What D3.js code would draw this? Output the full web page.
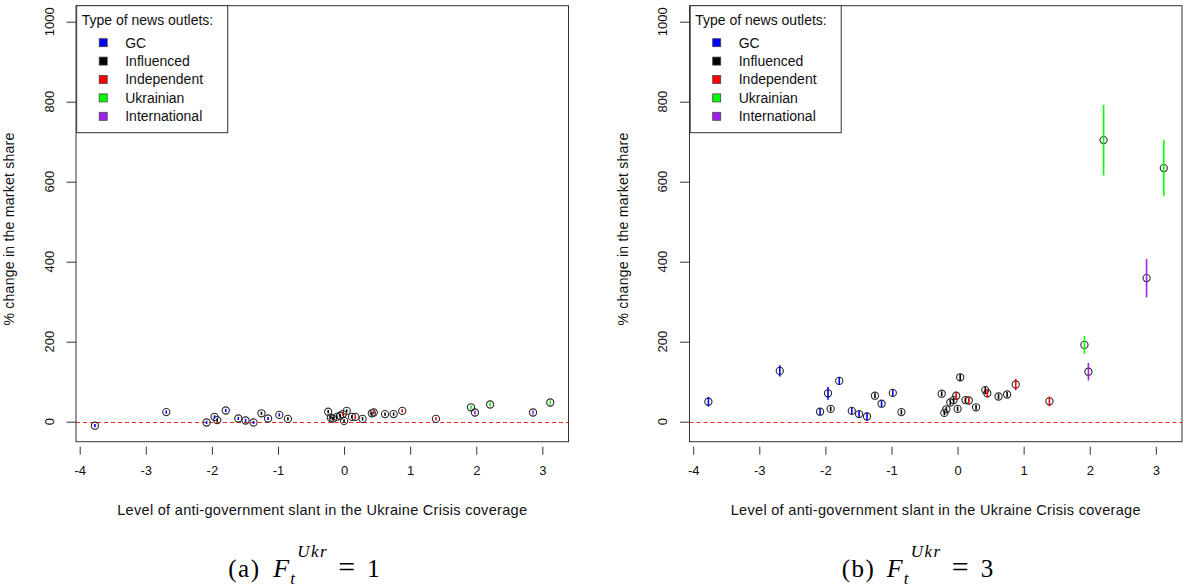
<!DOCTYPE html>
<html><head><meta charset="utf-8">
<script src="https://cdn.jsdelivr.net/npm/d3@7"></script>
<style>
body{margin:0;background:#fff;}
svg{display:block;font-family:"Liberation Sans",Arial,sans-serif;}
</style></head>
<body><svg id="c" width="1183" height="587"></svg>
<script>
// ---- data ----
const types = ["GC","Influenced","Independent","Ukrainian","International"];
const typeColors = ["#0000FF","#000000","#FF0000","#00FF00","#A020F0"];
const outletType = ["GC","GC","GC","GC","Influenced","GC","GC","GC","GC","Influenced","GC","GC","Influenced",
  "Influenced","Influenced","Influenced","Influenced","Influenced","Independent","Influenced","Influenced","Influenced",
  "Independent","Influenced","Influenced","Independent","Influenced","Influenced","Independent","Independent",
  "Ukrainian","International","Ukrainian","International","Ukrainian"];
const slant = [-3.77,-2.69,-2.08,-1.96,-1.92,-1.79,-1.60,-1.49,-1.37,-1.25,-1.15,-0.98,-0.85,
  -0.24,-0.20,-0.17,-0.11,-0.06,-0.02,0.00,0.04,0.12,0.17,0.28,0.42,0.45,0.62,0.75,0.88,1.39,
  1.92,1.98,2.21,2.86,3.12];
const shareF1 = [-10,24,-2,12,4,28,8,3,-2,21,8,17,7,25,10,8,12,15,19,2,27,12,12,7,21,23,19,19,27,7,36,23,43,23,48];
const shareF3 = [50,127,25,71,32,102,27,19,13,65,45,72,24,70,22,31,48,54,65,32,111,54,53,36,79,71,63,68,93,51,192,125,704,359,634];
const errF1 = [4,4,4,4,4,4,4,4,4,4,4,4,4,4,4,4,4,4,4,4,4,4,4,4,4,4,4,4,4,4,5,5,5,5,5];
const errF3 = [12,14,8,16,6,10,8,8,10,6,8,8,6,6,6,6,6,6,10,6,8,6,8,6,8,10,6,6,14,12,22,22,88,48,70];
const xTicks = [-4,-3,-2,-1,0,1,2,3];
const yTicks = [0,200,400,600,800,1000];
const xTitle = "Level of anti-government slant in the Ukraine Crisis coverage";
const yTitle = "% change in the market share";
const legendTitle = "Type of news outlets:";
const panels = [
  {letter:"(a)", F:"1", share:shareF1, err:errF1, left:76, right:568.5},
  {letter:"(b)", F:"3", share:shareF3, err:errF3, left:689.5, right:1182}
];

const svg = d3.select("#c");
const color = d3.scaleOrdinal().domain(types).range(typeColors);
const plotTop = 5.7, plotBottom = 441.7;
const fmt = d => String(d);

panels.forEach(p => {
  const g = svg.append("g");
  const x = d3.scaleLinear().domain([-4.056, 3.396]).range([p.left, p.right]);
  const y = d3.scaleLinear().domain([-50, 1040]).range([plotBottom, plotTop]);

  // x axis (ticks only)
  const xa = g.append("g").attr("transform", `translate(0,${plotBottom+5})`)
    .call(d3.axisBottom(x).tickValues(xTicks).tickSize(8).tickPadding(11).tickFormat(fmt));
  xa.select(".domain").remove();
  xa.selectAll("line").attr("stroke","#333");
  xa.selectAll("text").attr("font-size",13).attr("fill","#111").attr("font-family","Liberation Sans, Arial, sans-serif");

  // y axis
  const ya = g.append("g").attr("transform", `translate(${p.left},0)`)
    .call(d3.axisLeft(y).tickValues(yTicks).tickSize(9.5).tickPadding(0).tickFormat(fmt));
  ya.select(".domain").remove();
  ya.selectAll("line").attr("stroke","#333");
  ya.selectAll("text").remove();
  yTicks.forEach(t => {
    g.append("text").attr("x", p.left-22).attr("y", y(t))
      .attr("transform", `rotate(-90,${p.left-22},${y(t)})`)
      .attr("text-anchor","middle").attr("font-size",13).attr("fill","#111").text(fmt(t));
  });

  // zero reference line
  const y0 = Math.round(y(0)) + 0.5;
  g.append("line").attr("x1",p.left).attr("x2",p.right).attr("y1",y0).attr("y2",y0)
    .attr("stroke","#FF2020").attr("stroke-width",1).attr("stroke-dasharray","4,3");

  // points
  const idx = d3.range(slant.length);
  g.selectAll("circle.pt").data(idx).join("circle").attr("class","pt")
    .attr("cx", i => x(slant[i])).attr("cy", i => y(p.share[i])).attr("r",3.6)
    .attr("fill","none").attr("stroke","#2a2a2a").attr("stroke-width",1.1);
  // error bars
  g.selectAll("line.eb").data(idx).join("line").attr("class","eb")
    .attr("x1", i => x(slant[i])).attr("x2", i => x(slant[i]))
    .attr("y1", i => y(p.share[i]-p.err[i])).attr("y2", i => y(p.share[i]+p.err[i]))
    .attr("stroke", i => color(outletType[i])).attr("stroke-width",1.6);

  // box
  g.append("rect").attr("x",p.left).attr("y",plotTop).attr("width",p.right-p.left).attr("height",plotBottom-plotTop)
    .attr("fill","none").attr("stroke","#333").attr("stroke-width",1);

  // legend
  const lg = g.append("g").attr("transform", `translate(${p.left+0.7},${plotTop})`);
  lg.append("rect").attr("x",0).attr("y",0).attr("width",151).attr("height",127)
    .attr("fill","#fff").attr("stroke","#333").attr("stroke-width",1);
  lg.append("text").attr("x",5).attr("y",19).attr("font-size",14).attr("fill","#111").text(legendTitle);
  types.forEach((t,k) => {
    const cy = 37 + k*18.4;
    lg.append("rect").attr("x",22.5).attr("y",cy-4).attr("width",8).attr("height",8)
      .attr("fill",color(t)).attr("stroke","#444").attr("stroke-width",0.8);
    lg.append("text").attr("x",48.5).attr("y",cy+5).attr("font-size",14).attr("fill","#111").text(t);
  });

  // axis titles
  const cx = (p.left+p.right)/2;
  g.append("text").attr("x",cx).attr("y",515).attr("text-anchor","middle")
    .attr("font-size",14.5).attr("letter-spacing",0.3).attr("fill","#111").text(xTitle);
  const yc = 229, yx = p.left-62;
  g.append("text").attr("x",yx).attr("y",yc).attr("transform",`rotate(-90,${yx},${yc})`)
    .attr("text-anchor","middle").attr("font-size",14).attr("letter-spacing",0.25).attr("fill","#111").text(yTitle);

  // caption
  const x0 = cx - 94, base = 577;
  const cap = g.append("text").attr("font-family","'Liberation Serif','DejaVu Serif',serif")
    .attr("font-size",25).attr("fill","#000");
  cap.append("tspan").attr("x",x0).attr("y",base).attr("letter-spacing",1.5).text(p.letter);
  cap.append("tspan").attr("x",x0+45).attr("y",base).attr("font-style","italic").attr("font-size",26).text("F");
  cap.append("tspan").attr("x",x0+62).attr("y",base+7).attr("font-style","italic").attr("font-size",17).text("t");
  cap.append("tspan").attr("x",x0+69).attr("y",base-20).attr("font-style","italic").attr("font-size",17)
    .attr("letter-spacing",1.5).text("Ukr");
  cap.append("tspan").attr("x",x0+110).attr("y",base).attr("font-size",30).text("=");
  cap.append("tspan").attr("x",x0+139).attr("y",base).text(p.F);
});
</script>
</body></html>
